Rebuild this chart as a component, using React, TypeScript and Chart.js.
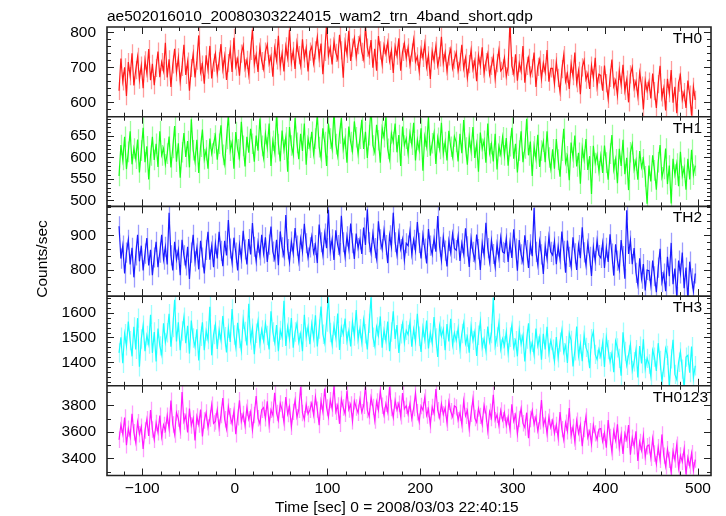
import { useEffect, useRef } from 'react';
import { Chart, registerables } from 'chart.js';
Chart.register(...registerables);

const TITLE = 'ae502016010_20080303224015_wam2_trn_4band_short.qdp';
const X_LABEL = 'Time [sec] 0 = 2008/03/03 22:40:15';
const Y_LABEL = 'Counts/sec';
const BANDS = ['TH0', 'TH1', 'TH2', 'TH3', 'TH0123'];

const TIME_START = -125;
const TIME_STEP = 2;

const TH0 = [
  633, 725, 660, 700, 618, 715, 675, 740, 648, 692, 730, 665, 705, 640, 720, 683, 752, 663, 710, 649, 698, 745, 672, 715, 690, 770,
  671, 723, 644, 708, 753, 686, 728, 659, 701, 764, 678, 716, 633, 698, 738, 671, 719, 791, 686, 708, 653, 734, 693, 761, 668, 713,
  739, 682, 717, 766, 694, 732, 664, 712, 751, 687, 784, 702, 724, 676, 739, 762, 697, 721, 679, 747, 807, 709, 736, 687, 757, 718,
  695, 745, 765, 710, 732, 673, 755, 720, 790, 703, 740, 688, 760, 727, 807, 715, 747, 695, 770, 735, 705, 780, 725, 755, 688, 745,
  759, 711, 748, 786, 726, 768, 680, 744, 823, 733, 756, 708, 774, 741, 723, 793, 748, 670, 771, 738, 804, 718, 756, 783, 729, 763,
  786, 744, 723, 816, 756, 733, 778, 699, 753, 690, 789, 748, 708, 763, 738, 771, 718, 748, 684, 759, 733, 783, 690, 744, 768, 726,
  757, 707, 742, 779, 716, 731, 689, 752, 727, 767, 701, 734, 667, 746, 719, 761, 704, 728, 787, 712, 742, 689, 731, 752, 697, 722,
  742, 690, 715, 764, 697, 727, 670, 709, 749, 694, 719, 660, 734, 704, 757, 682, 715, 739, 679, 704, 730, 667, 712, 749, 690, 697,
  727, 674, 701, 830, 704, 682, 737, 662, 712, 689, 761, 656, 704, 727, 677, 697, 742, 644, 701, 722, 667, 712, 686, 749, 659, 697,
  697, 653, 715, 670, 630, 695, 735, 660, 682, 638, 710, 675, 742, 655, 690, 623, 700, 720, 665, 682, 638, 705, 670, 727, 645, 680,
  677, 633, 705, 655, 610, 670, 722, 645, 662, 620, 690, 650, 707, 633, 665, 600, 680, 700, 640, 660, 618, 685, 648, 580, 662, 633,
  659, 611, 682, 632, 584, 652, 704, 614, 641, 577, 667, 626, 692, 599, 644, 569, 656, 677, 607, 629, 584, 662, 622, 562, 644, 607,
];

const TH1 = [
  557, 629, 594, 648, 573, 613, 661, 584, 621, 597, 642, 565, 616, 669, 589, 626, 549, 605, 648, 594, 632, 578, 661, 605, 621, 584,
  609, 649, 577, 622, 673, 590, 633, 553, 612, 657, 601, 638, 577, 689, 617, 590, 641, 564, 625, 665, 596, 617, 574, 644, 609, 633,
  651, 595, 632, 675, 606, 584, 643, 699, 616, 635, 574, 659, 619, 600, 683, 627, 579, 648, 611, 667, 632, 590, 651, 616, 691, 627,
  599, 655, 623, 679, 580, 639, 612, 698, 631, 591, 663, 618, 647, 567, 671, 628, 607, 692, 634, 596, 655, 615, 679, 583, 644, 623,
  660, 608, 644, 700, 624, 599, 668, 636, 580, 679, 644, 620, 708, 631, 604, 656, 692, 620, 644, 588, 672, 636, 615, 684, 647, 608,
  644, 688, 620, 660, 599, 652, 716, 628, 612, 676, 640, 588, 668, 647, 695, 620, 596, 656, 636, 679, 612, 652, 580, 672, 628, 644,
  609, 657, 630, 681, 593, 641, 617, 668, 569, 649, 625, 694, 604, 633, 657, 585, 646, 620, 681, 609, 636, 593, 662, 625, 601, 649,
  636, 591, 655, 610, 687, 623, 583, 647, 615, 671, 599, 631, 567, 658, 620, 639, 588, 679, 610, 631, 591, 655, 572, 626, 607, 647,
  605, 645, 581, 626, 669, 597, 632, 565, 616, 661, 589, 621, 690, 605, 637, 557, 626, 597, 653, 578, 616, 637, 589, 661, 600, 573,
  619, 574, 643, 595, 555, 616, 667, 587, 603, 547, 635, 600, 651, 579, 611, 539, 622, 595, 643, 571, 603, 515, 627, 587, 606, 568,
  604, 564, 628, 588, 548, 609, 652, 572, 596, 540, 620, 580, 641, 561, 599, 524, 612, 631, 572, 593, 548, 615, 577, 596, 556, 492,
  581, 544, 605, 570, 525, 589, 629, 554, 573, 621, 538, 581, 493, 597, 560, 586, 533, 613, 557, 576, 525, 597, 549, 618, 560, 581,
];

const TH2 = [
  926, 833, 870, 790, 850, 887, 816, 864, 779, 842, 901, 825, 870, 799, 847, 892, 813, 858, 785, 836, 881, 808, 850, 901, 830, 867,
  816, 965, 842, 799, 881, 830, 858, 785, 887, 842, 813, 867, 774, 850, 901, 825, 864, 802, 884, 836, 790, 858, 910, 830, 870, 808,
  876, 833, 910, 855, 811, 884, 842, 944, 862, 821, 893, 850, 799, 872, 833, 913, 859, 816, 889, 845, 935, 867, 825, 879, 842, 901,
  848, 894, 823, 873, 925, 853, 831, 887, 814, 911, 865, 840, 958, 860, 823, 882, 848, 921, 870, 826, 890, 853, 933, 877, 836, 865,
  897, 849, 872, 820, 931, 880, 843, 905, 863, 973, 855, 888, 829, 914, 872, 849, 956, 880, 838, 897, 860, 934, 877, 832, 905, 863,
  888, 846, 922, 872, 975, 880, 849, 905, 863, 832, 940, 888, 860, 914, 872, 820, 900, 866, 965, 880, 843, 905, 860, 888, 829, 877,
  870, 912, 845, 887, 856, 938, 878, 833, 901, 862, 819, 918, 870, 845, 890, 853, 955, 867, 828, 895, 856, 810, 884, 850, 904, 862,
  857, 897, 826, 877, 846, 920, 868, 809, 891, 852, 829, 902, 860, 800, 877, 843, 936, 863, 823, 885, 846, 809, 874, 835, 894, 852,
  849, 891, 823, 879, 835, 917, 862, 798, 886, 845, 823, 900, 857, 806, 874, 840, 978, 852, 815, 883, 845, 789, 869, 832, 896, 852,
  843, 882, 817, 868, 831, 911, 855, 792, 885, 838, 809, 894, 848, 800, 872, 834, 923, 851, 814, 877, 838, 783, 865, 826, 885, 843,
  835, 877, 806, 864, 823, 903, 847, 784, 874, 827, 801, 886, 840, 775, 972, 846, 885, 817, 863, 792, 758, 834, 775, 817, 741, 800,
  798, 756, 827, 782, 736, 807, 861, 765, 790, 739, 838, 782, 878, 759, 804, 722, 827, 790, 850, 748, 807, 714, 824, 776, 739, 790,
];

const TH3 = [
  1438, 1501, 1396, 1515, 1466, 1564, 1487, 1424, 1543, 1452, 1578, 1382, 1494, 1550, 1445, 1508, 1473, 1592, 1438, 1522, 1403, 1536, 1466, 1431, 1557, 1480,
  1519, 1596, 1463, 1540, 1652, 1484, 1561, 1449, 1526, 1582, 1477, 1547, 1435, 1568, 1498, 1463, 1533, 1407, 1505, 1561, 1449, 1526, 1491, 1624, 1428, 1512,
  1552, 1454, 1531, 1489, 1587, 1503, 1440, 1538, 1482, 1615, 1510, 1461, 1559, 1496, 1447, 1573, 1524, 1468, 1636, 1489, 1538, 1433, 1517, 1566, 1475, 1531,
  1487, 1557, 1508, 1452, 1606, 1522, 1480, 1550, 1445, 1529, 1501, 1648, 1466, 1543, 1494, 1578, 1459, 1522, 1557, 1480, 1515, 1445, 1592, 1501, 1543, 1473,
  1555, 1499, 1590, 1464, 1534, 1625, 1513, 1478, 1562, 1662, 1520, 1471, 1548, 1499, 1597, 1450, 1541, 1513, 1576, 1485, 1527, 1464, 1562, 1506, 1611, 1492,
  1536, 1480, 1571, 1515, 1452, 1557, 1662, 1501, 1466, 1543, 1508, 1585, 1459, 1529, 1487, 1564, 1445, 1522, 1606, 1494, 1550, 1438, 1515, 1557, 1480, 1529,
  1512, 1561, 1463, 1533, 1484, 1596, 1505, 1442, 1540, 1491, 1568, 1456, 1519, 1477, 1582, 1498, 1421, 1547, 1505, 1533, 1449, 1554, 1484, 1575, 1470, 1519,
  1488, 1537, 1453, 1516, 1558, 1474, 1502, 1439, 1544, 1488, 1523, 1425, 1509, 1565, 1460, 1495, 1446, 1544, 1481, 1516, 1660, 1467, 1502, 1558, 1453, 1495,
  1466, 1522, 1438, 1501, 1550, 1459, 1487, 1424, 1529, 1473, 1508, 1403, 1494, 1557, 1445, 1480, 1431, 1536, 1466, 1501, 1410, 1515, 1452, 1543, 1438, 1487,
  1453, 1404, 1502, 1418, 1481, 1530, 1439, 1467, 1397, 1516, 1488, 1383, 1446, 1544, 1425, 1474, 1404, 1509, 1460, 1439, 1376, 1495, 1523, 1432, 1411, 1453,
  1423, 1479, 1381, 1500, 1451, 1402, 1437, 1360, 1486, 1458, 1416, 1346, 1521, 1444, 1388, 1430, 1472, 1367, 1402, 1451, 1339, 1465, 1395, 1493, 1374, 1416,
  1393, 1344, 1449, 1421, 1365, 1477, 1407, 1323, 1379, 1456, 1428, 1302, 1414, 1491, 1351, 1330, 1400, 1442, 1372, 1295, 1421, 1428, 1358, 1463, 1337, 1386,
];

const TH0123 = [
  3540, 3652, 3582, 3708, 3498, 3624, 3561, 3736, 3596, 3519, 3673, 3582, 3638, 3470, 3610, 3694, 3568, 3764, 3617, 3540, 3666, 3596, 3722, 3561, 3652, 3610,
  3722, 3625, 3835, 3655, 3580, 3745, 3700, 3610, 3900, 3677, 3722, 3595, 3775, 3648, 3700, 3535, 3715, 3655, 3767, 3565, 3685, 3745, 3633, 3700, 3805, 3663,
  3678, 3766, 3630, 3726, 3854, 3694, 3622, 3790, 3718, 3662, 3758, 3582, 3710, 3838, 3678, 3734, 3646, 3782, 3694, 3750, 3614, 3726, 3870, 3702, 3662, 3766,
  3782, 3702, 3830, 3654, 3766, 3726, 3894, 3742, 3686, 3814, 3766, 3670, 3862, 3734, 3790, 3638, 3750, 3838, 3710, 3766, 3940, 3742, 3694, 3806, 3734, 3766,
  3815, 3727, 3863, 3767, 3650, 3831, 3751, 3927, 3783, 3711, 3839, 3775, 3945, 3751, 3799, 3660, 3847, 3783, 3735, 3911, 3767, 3807, 3680, 3831, 3783, 3743,
  3844, 3748, 3796, 3945, 3764, 3716, 3860, 3788, 3684, 3828, 3764, 3908, 3796, 3724, 3812, 3748, 3940, 3780, 3708, 3836, 3764, 3812, 3716, 3892, 3772, 3796,
  3731, 3811, 3699, 3779, 3891, 3747, 3675, 3795, 3763, 3859, 3723, 3771, 3651, 3787, 3739, 3923, 3763, 3707, 3811, 3731, 3779, 3667, 3827, 3755, 3715, 3795,
  3784, 3688, 3744, 3656, 3832, 3720, 3760, 3624, 3736, 3848, 3704, 3672, 3776, 3720, 3656, 3800, 3736, 3608, 3752, 3704, 3880, 3688, 3728, 3648, 3760, 3688,
  3744, 3648, 3712, 3616, 3808, 3680, 3728, 3584, 3696, 3776, 3664, 3632, 3744, 3552, 3696, 3760, 3656, 3712, 3608, 3680, 3840, 3648, 3696, 3584, 3712, 3632,
  3684, 3588, 3652, 3556, 3748, 3620, 3540, 3668, 3604, 3780, 3572, 3636, 3524, 3684, 3588, 3652, 3492, 3620, 3716, 3556, 3604, 3508, 3652, 3588, 3540, 3620,
  3624, 3528, 3592, 3480, 3688, 3560, 3448, 3608, 3536, 3656, 3480, 3576, 3432, 3587, 3539, 3651, 3427, 3555, 3491, 3603, 3379, 3523, 3459, 3571, 3411, 3491,
  3500, 3404, 3548, 3436, 3356, 3484, 3388, 3580, 3420, 3340, 3468, 3388, 3292, 3454, 3390, 3502, 3326, 3422, 3374, 3470, 3278, 3406, 3342, 3438, 3310, 3390,
];

const SERIES = [TH0, TH1, TH2, TH3, TH0123];
const ERRORS = [26, 24, 29, 39, 62];

const X_MIN = -138;
const X_MAX = 514;
const X_TICKS = [-100, 0, 100, 200, 300, 400, 500];
const X_MINOR = 20;

const Y_MIN = [559, 486, 725, 1305, 3270];
const Y_MAX = [815, 695, 983, 1667, 3947];
const Y_TICKS = [
  [600, 700, 800],
  [500, 550, 600, 650],
  [800, 900],
  [1400, 1500, 1600],
  [3400, 3600, 3800],
];
const Y_MAJOR = [100, 50, 100, 100, 200];
const Y_MINOR = [20, 10, 20, 20, 100];

const COLORS = ['#ff1a1a', '#1aff1a', '#1a1aff', '#1affff', '#ff1aff'];
const HALOS = [
  'rgba(255,90,90,0.6)',
  'rgba(90,255,90,0.6)',
  'rgba(90,90,255,0.6)',
  'rgba(90,255,255,0.6)',
  'rgba(255,90,255,0.6)',
];

const FONT = '15.5px "Liberation Sans", Arial, Helvetica, sans-serif';
const FRAME = '#222';

const fmt = (v: number) => (v < 0 ? '\u2212' + Math.abs(v) : String(v));

export default function App() {
  const ref = useRef<HTMLCanvasElement | null>(null);
  useEffect(() => {
    if (!ref.current) return;
    const yIds = BANDS.map((_, i) => 'y' + i);

    const scales: any = {
      x: {
        type: 'linear',
        position: 'bottom',
        min: X_MIN,
        max: X_MAX,
        grid: { display: false, drawTicks: false },
        border: { display: false },
        ticks: {
          font: { family: '"Liberation Sans", Arial, sans-serif', size: 15.5 },
          color: '#000',
          padding: 4,
          maxRotation: 0,
          autoSkip: false,
          callback: (v: any) => fmt(Number(v)),
        },
        afterBuildTicks: (s: any) => {
          s.ticks = X_TICKS.map((v) => ({ value: v }));
        },
        afterFit: (s: any) => {
          s.height = 40.5;
        },
      },
    };
    // last defined stacked axis is placed at the top
    for (let i = BANDS.length - 1; i >= 0; i--) {
      scales[yIds[i]] = {
        type: 'linear',
        position: 'left',
        stack: 'panels',
        stackWeight: 1,
        min: Y_MIN[i],
        max: Y_MAX[i],
        grid: { display: false, drawTicks: false },
        border: { display: false },
        ticks: {
          font: { family: '"Liberation Sans", Arial, sans-serif', size: 15.5 },
          color: '#000',
          padding: 11,
          autoSkip: false,
          callback: (v: any) => fmt(Number(v)),
        },
        afterBuildTicks: (s: any) => {
          s.ticks = Y_TICKS[i].map((v) => ({ value: v }));
        },
        afterFit: (s: any) => {
          s.width = 99;
        },
      };
    }

    const datasets = SERIES.map((vals, i) => ({
      type: 'line' as const,
      label: BANDS[i],
      data: vals.map((v, k) => ({ x: TIME_START + k * TIME_STEP, y: v })),
      xAxisID: 'x',
      yAxisID: yIds[i],
      borderColor: COLORS[i],
      borderWidth: 1.2,
      pointRadius: 0,
      tension: 0,
      fill: false,
    }));

    const errorBars = {
      id: 'errorBars',
      beforeDatasetsDraw(chart: any) {
        const ctx = chart.ctx;
        const xs = chart.scales.x;
        const area = chart.chartArea;
        SERIES.forEach((vals, i) => {
          const ys = chart.scales[yIds[i]];
          ctx.save();
          ctx.beginPath();
          ctx.rect(area.left, ys.top, area.right - area.left, ys.bottom - ys.top);
          ctx.clip();
          ctx.strokeStyle = HALOS[i];
          ctx.lineWidth = 1.3;
          ctx.beginPath();
          vals.forEach((v, k) => {
            const px = Math.round(xs.getPixelForValue(TIME_START + k * TIME_STEP)) + 0.5;
            ctx.moveTo(px, ys.getPixelForValue(v - ERRORS[i]));
            ctx.lineTo(px, ys.getPixelForValue(v + ERRORS[i]));
          });
          ctx.stroke();
          ctx.restore();
        });
      },
    };

    const frame = {
      id: 'frame',
      afterDraw(chart: any) {
        const ctx = chart.ctx;
        const xs = chart.scales.x;
        const area = chart.chartArea;
        ctx.save();
        ctx.strokeStyle = FRAME;
        ctx.lineWidth = 1;
        BANDS.forEach((_, i) => {
          const ys = chart.scales[yIds[i]];
          const top = ys.top;
          const bot = ys.bottom;
          ctx.beginPath();
          for (let v = Math.ceil(X_MIN / X_MINOR) * X_MINOR; v <= X_MAX; v += X_MINOR) {
            const px = Math.round(xs.getPixelForValue(v)) + 0.5;
            const len = v % 100 === 0 ? 7 : 4;
            ctx.moveTo(px, top);
            ctx.lineTo(px, top + len);
            ctx.moveTo(px, bot);
            ctx.lineTo(px, bot - len);
          }
          for (let v = Math.ceil(Y_MIN[i] / Y_MINOR[i]) * Y_MINOR[i]; v <= Y_MAX[i]; v += Y_MINOR[i]) {
            const py = Math.round(ys.getPixelForValue(v)) + 0.5;
            const len = v % Y_MAJOR[i] === 0 ? 7 : 4;
            ctx.moveTo(area.left, py);
            ctx.lineTo(area.left + len, py);
            ctx.moveTo(area.right, py);
            ctx.lineTo(area.right - len, py);
          }
          ctx.stroke();
        });
        ctx.lineWidth = 1.6;
        ctx.beginPath();
        ctx.rect(area.left, area.top, area.right - area.left, area.bottom - area.top);
        BANDS.forEach((_, i) => {
          if (i === 0) return;
          const ys = chart.scales[yIds[i]];
          ctx.moveTo(area.left, ys.top);
          ctx.lineTo(area.right, ys.top);
        });
        ctx.stroke();

        ctx.fillStyle = '#000';
        ctx.font = FONT;
        ctx.textBaseline = 'alphabetic';
        ctx.textAlign = 'left';
        ctx.fillText(TITLE, area.left, 21);
        ctx.fillText(X_LABEL, 275, 512);
        ctx.textAlign = 'right';
        BANDS.forEach((b, i) => {
          const ys = chart.scales[yIds[i]];
          ctx.fillText(b, b.length > 3 ? area.right - 3 : area.right - 9, ys.top + 16);
        });
        ctx.save();
        ctx.translate(47, 259);
        ctx.rotate(-Math.PI / 2);
        ctx.textAlign = 'center';
        ctx.fillText(Y_LABEL, 0, 0);
        ctx.restore();
        ctx.restore();
      },
    };

    const chart = new Chart(ref.current, {
      type: 'line',
      data: { datasets },
      options: {
        animation: false,
        responsive: false,
        layout: { padding: { left: 8, right: 15, top: 27, bottom: 0 } },
        plugins: { legend: { display: false }, title: { display: false }, tooltip: { enabled: false } },
        scales,
      },
      plugins: [errorBars, frame],
    } as any);
    return () => chart.destroy();
  }, []);

  return (
    <div style={{ position: 'fixed', left: 0, top: 0, width: 726, height: 516, background: '#fff' }}>
      <canvas ref={ref} width={726} height={516} style={{ display: 'block', width: 726, height: 516 }} />
    </div>
  );
}
